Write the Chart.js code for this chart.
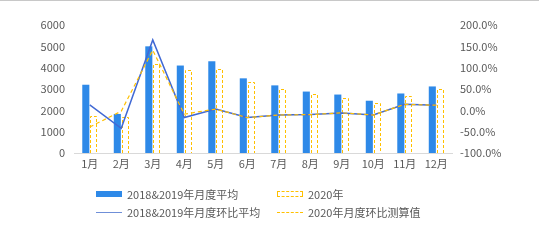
<!DOCTYPE html>
<html lang="zh">
  <head>
    <meta charset="UTF-8" />
    <title>月度对比</title>
    <script src="https://cdn.jsdelivr.net/npm/chart.js@4.4.1/dist/chart.umd.min.js"></script>
    <style>
      body { margin: 0; background: #fff; }
      #wrap { position: relative; width: 539px; height: 245px; border-top: 1px solid #c8c8c8; box-sizing: border-box; }
      #legend { position: absolute; left: 96px; top: 186px; font-family: "Noto Sans CJK SC", sans-serif; font-size: 11px; color: #595959; }
      .item { position: absolute; white-space: nowrap; display: flex; align-items: center; height: 14px; }
      .swatch { width: 26px; height: 6px; margin-right: 5px; box-sizing: border-box; }
    </style>
  </head>
  <body>
    <div id="wrap">
      <canvas id="myChart" width="539" height="244"></canvas>
      <div id="legend"></div>
    </div>
    <script>
      // 数据
      var months = ["1月","2月","3月","4月","5月","6月","7月","8月","9月","10月","11月","12月"];
      var avg1819 = [3200, 1830, 5000, 4100, 4300, 3500, 3170, 2880, 2740, 2450, 2790, 3120];
      var year2020 = [1750, 1700, 4160, 3870, 3950, 3350, 3010, 2770, 2600, 2360, 2690, 3010];
      var momAvg = [13, -42, 165, -17, 3, -17, -11, -10, -6, -11, 14, 12];
      var mom2020 = [-39, -2, 141, -9, 3, -17, -11, -10, -6, -11, 14, 12];
      var labels = ["2018&2019年月度平均", "2020年", "2018&2019年月度环比平均", "2020年月度环比测算值"];

      var gray = "#595959";
      var font = { family: "'Noto Sans CJK SC', sans-serif", size: 11 };

      // bar dashed border (Chart.js bars cannot dash their border)
      var dashedBars = {
        id: "dashedBars",
        afterDatasetDraw: function (chart, args) {
          if (args.index !== 1) return;
          var ctx = chart.ctx;
          ctx.save();
          ctx.strokeStyle = "#FFC000";
          ctx.lineWidth = 1;
          ctx.setLineDash([3, 2]);
          args.meta.data.forEach(function (el) {
            var p = el.getProps(["x", "y", "base", "width"], true);
            var l = Math.round(p.x - p.width / 2) + 0.5;
            var r = Math.round(p.x + p.width / 2) - 0.5;
            var t = Math.round(p.y) + 0.5;
            var b = Math.round(p.base);
            ctx.beginPath();
            ctx.moveTo(l, b);
            ctx.lineTo(l, t);
            ctx.lineTo(r, t);
            ctx.lineTo(r, b);
            ctx.stroke();
          });
          ctx.restore();
        }
      };

      var chart = new Chart(document.getElementById("myChart"), {
        data: {
          labels: months,
          datasets: [
            { type: "bar", label: labels[0], data: avg1819, backgroundColor: "#2E89E8", yAxisID: "y", order: 2,
              categoryPercentage: 0.5, barPercentage: 0.9 },
            { type: "bar", label: labels[1], data: year2020, backgroundColor: "#ffffff", borderWidth: 0, yAxisID: "y", order: 2,
              categoryPercentage: 0.5, barPercentage: 0.9 },
            { type: "line", label: labels[2], data: momAvg, borderColor: "#4169D4", borderWidth: 1.5, pointRadius: 0,
              yAxisID: "y1", order: 1, tension: 0 },
            { type: "line", label: labels[3], data: mom2020, borderColor: "#FFC000", borderWidth: 1.2, borderDash: [4, 3],
              pointRadius: 0, yAxisID: "y1", order: 0, tension: 0 }
          ]
        },
        options: {
          responsive: false,
          animation: false,
          layout: { padding: { top: 24, left: 0, right: 0, bottom: 0 } },
          plugins: { legend: { display: false }, tooltip: { enabled: false } },
          scales: {
            x: {
              grid: { display: false, drawTicks: false },
              border: { color: "#d9d9d9" },
              ticks: { color: gray, font: font, padding: 4, maxRotation: 0, autoSkip: false },
              afterFit: function (s) { s.height = 92; }
            },
            y: {
              position: "left",
              min: 0, max: 6000,
              grid: { display: false, drawTicks: false },
              border: { display: false },
              ticks: { stepSize: 1000, color: gray, font: font, padding: 9,
                callback: function (v) { return String(v); } },
              afterFit: function (s) { s.width = 74; }
            },
            y1: {
              position: "right",
              min: -100, max: 200,
              grid: { display: false, drawTicks: false },
              border: { display: false },
              ticks: { stepSize: 50, color: gray, font: font, padding: 8,
                callback: function (v) { return v.toFixed(1) + "%"; } },
              afterFit: function (s) { s.width = 87; }
            }
          }
        },
        plugins: [dashedBars]
      });

      // legend laid out as a 2x2 grid like the original
      var legend = document.getElementById("legend");
      var swatches = [
        "background:#2E89E8;",
        "border:1px dashed #FFC000;",
        "height:0;border-top:1.5px solid #6F8FD8;",
        "height:0;border-top:1px dashed #FFC000;"
      ];
      var pos = [[0, 0], [181, 0], [0, 18], [181, 18]];
      labels.forEach(function (text, i) {
        var d = document.createElement("div");
        d.className = "item";
        d.style.left = pos[i][0] + "px";
        d.style.top = pos[i][1] + "px";
        d.innerHTML = '<span class="swatch" style="' + swatches[i] + '"></span>';
        d.appendChild(document.createTextNode(text));
        legend.appendChild(d);
      });
    </script>
  </body>
</html>
